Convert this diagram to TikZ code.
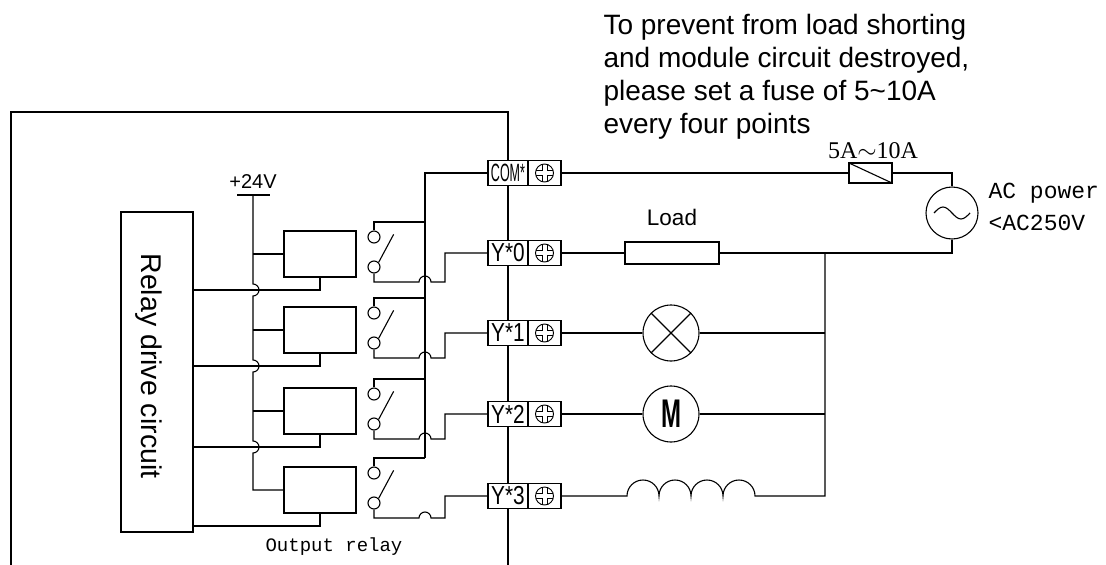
\documentclass[tikz,border=0pt]{standalone}
\usepackage{fontspec}
\usepackage{graphicx}
\setmainfont{Liberation Sans}
\newfontfamily\monofont{Liberation Mono}
\newfontfamily\seriffont{Liberation Serif}
\usetikzlibrary{positioning}

\begin{document}
\begin{tikzpicture}[x=1pt, y=-1pt, line width=1.1pt,
    coil/.style={draw, minimum width=72pt, minimum height=46pt, inner sep=0},
    contact/.style={draw, circle, minimum size=12pt, inner sep=0},
    term/.style={draw, fill=white, minimum width=40pt, minimum height=25pt,
                 inner sep=0, outer sep=0},
    screw/.style={draw, fill=white, minimum width=33pt, minimum height=25pt,
                  inner sep=0, outer sep=0,
      path picture={
        \draw[line width=0.9pt] (path picture bounding box.center) circle[radius=9];
        \clip (path picture bounding box.center) circle[radius=9];
        \draw[line width=0.9pt] (path picture bounding box.center)
          +(2.5,-10) -- +(2.5,-2.5) -- +(10,-2.5) -- +(10,2.5) -- +(2.5,2.5)
          -- +(2.5,10) -- +(-2.5,10) -- +(-2.5,2.5) -- +(-10,2.5) -- +(-10,-2.5)
          -- +(-2.5,-2.5) -- +(-2.5,-10) -- cycle;}},
    lamp/.style={draw, circle, minimum size=56pt, inner sep=0,
      path picture={
        \draw (path picture bounding box.north west) -- (path picture bounding box.south east)
              (path picture bounding box.north east) -- (path picture bounding box.south west);}},
    motor/.style={draw, circle, minimum size=56pt, inner sep=0},
    fuse/.style={draw, minimum width=43pt, minimum height=20pt, inner sep=0,
      path picture={
        \draw (path picture bounding box.north west) -- (path picture bounding box.south east);}},
    acsource/.style={draw, circle, minimum size=52pt, inner sep=0,
      path picture={
        \draw (path picture bounding box.center) ++(-18,0) sin ++(9,-6) cos ++(9,6)
              sin ++(9,6) cos ++(9,-6);}}]
    \useasboundingbox (0,0) rectangle (1106,565);

   % module outline
   \draw (11,565) -- (11,112) -- (508,112) -- (508,565);

   \node[draw, minimum width=72pt, minimum height=320pt, inner sep=0] (relay_drive) at (157,372) {};
   \node[rotate=-90, font=\fontsize{28.5}{28.5}\selectfont] (drive_text) at (149,366) {Relay drive circuit};

   % +24V supply
   \coordinate (v24) at (253,195);
   \draw (237,195) -- (270,195);
   \node[above=6pt of v24, inner sep=0, font=\fontsize{20}{20}\selectfont] (v24_label) {+24V};

   \node[coil] (coil_1) at (320,254) {};
   \node[coil] (coil_2) at (320,330) {};
   \node[coil] (coil_3) at (320,411) {};
   \node[coil] (coil_4) at (320,490) {};

   \draw (v24) -- (253,284) arc[start angle=-90, end angle=90, radius=6]
               -- (253,360) arc[start angle=-90, end angle=90, radius=6]
               -- (253,441) arc[start angle=-90, end angle=90, radius=6]
               -- (253,490) -- (coil_4.west);
   \draw (v24 |- coil_1.west) -- (coil_1.west);
   \draw (v24 |- coil_2.west) -- (coil_2.west);
   \draw (v24 |- coil_3.west) -- (coil_3.west);

   \draw (coil_1.south) |- (relay_drive.east |- 0,290);
   \draw (coil_2.south) |- (relay_drive.east |- 0,366);
   \draw (coil_3.south) |- (relay_drive.east |- 0,447);
   \draw (coil_4.south) |- (relay_drive.east |- 0,526);

   % output terminals
   \node[term] (term_com) at (508,173) {\scalebox{0.5}[1]{\fontsize{25}{25}\selectfont COM*}};
   \node[term] (term_y0) at (508,253) {\scalebox{0.8}[1]{\fontsize{26}{26}\selectfont Y*0}};
   \node[term] (term_y1) at (508,333) {\scalebox{0.8}[1]{\fontsize{26}{26}\selectfont Y*1}};
   \node[term] (term_y2) at (508,414) {\scalebox{0.8}[1]{\fontsize{26}{26}\selectfont Y*2}};
   \node[term] (term_y3) at (508,496) {\scalebox{0.8}[1]{\fontsize{26}{26}\selectfont Y*3}};
   \node[screw, right=0pt of term_com] (screw_com) {};
   \node[screw, right=0pt of term_y0] (screw_y0) {};
   \node[screw, right=0pt of term_y1] (screw_y1) {};
   \node[screw, right=0pt of term_y2] (screw_y2) {};
   \node[screw, right=0pt of term_y3] (screw_y3) {};

   % relay contacts
   \node[contact] (contact_1a) at (374,237) {};
   \node[contact] (contact_1b) at (374,267) {};
   \node[contact] (contact_2a) at (374,313) {};
   \node[contact] (contact_2b) at (374,343) {};
   \node[contact] (contact_3a) at (374,394) {};
   \node[contact] (contact_3b) at (374,424) {};
   \node[contact] (contact_4a) at (374,473) {};
   \node[contact] (contact_4b) at (374,503) {};
   \draw (contact_1b.45) -- ++(15,-28);
   \draw (contact_2b.45) -- ++(15,-28);
   \draw (contact_3b.45) -- ++(15,-28);
   \draw (contact_4b.45) -- ++(15,-28);

   \draw (term_com.west) -| (425,458);
   \draw (contact_1a.north) |- (425,222);
   \draw (contact_2a.north) |- (425,298);
   \draw (contact_3a.north) |- (425,379);
   \draw (contact_4a.north) |- (425,458);

   \draw (contact_1b.south) |- (419,282) arc[start angle=180, end angle=360, radius=6]
         -- (445,282) |- (term_y0.west);
   \draw (contact_2b.south) |- (419,358) arc[start angle=180, end angle=360, radius=6]
         -- (445,358) |- (term_y1.west);
   \draw (contact_3b.south) |- (419,439) arc[start angle=180, end angle=360, radius=6]
         -- (445,439) |- (term_y2.west);
   \draw (contact_4b.south) |- (419,518) arc[start angle=180, end angle=360, radius=6]
         -- (445,518) |- (term_y3.west);

   \node[inner sep=0, anchor=base west, font=\monofont\fontsize{19}{19}\selectfont] (relay_label) at (265,551) {Output relay};

   % loads and power
   \node[fuse] (fuse) at (870.5,173) {};
   \node[anchor=base, inner sep=0, font=\seriffont\fontsize{24}{24}\selectfont] (fuse_label) at (873,158) {5A$\sim$10A};
   \node[acsource] (ac) at (952,213) {};
   \node[anchor=north west, align=left, inner sep=0, font=\monofont\fontsize{23}{32}\selectfont] (ac_label) at (988,183) {AC power\\<AC250V};
   \node[draw, minimum width=94pt, minimum height=22pt, inner sep=0] (load) at (672,253) {};
   \node[above=15pt of load, inner sep=0, font=\fontsize{22.5}{22.5}\selectfont] (load_label) {Load};
   \node[lamp] (lamp) at (671,333) {};
   \node[motor] (motor) at (671,414) {\scalebox{0.6}[1]{\fontsize{40}{40}\selectfont\bfseries M}};
   \coordinate (rbus) at (825,253);

   \draw (screw_com.east) -- (fuse.west);
   \draw (fuse.east) -| (ac.north);
   \draw (ac.south) |- (load.east);
   \draw (screw_y0.east) -- (load.west);
   \draw (screw_y1.east) -- (lamp.west);
   \draw (lamp.east) -- (rbus |- lamp.east);
   \draw (screw_y2.east) -- (motor.west);
   \draw (motor.east) -- (rbus |- motor.east);
   \draw (screw_y3.east) -- (627,496)
         arc[start angle=180, end angle=360, radius=16]
         arc[start angle=180, end angle=360, radius=16]
         arc[start angle=180, end angle=360, radius=16]
         arc[start angle=180, end angle=360, radius=16]
         -- (rbus |- screw_y3.east) -- (rbus);

   \node[anchor=north west, align=left, inner sep=0, font=\fontsize{28}{33}\selectfont] (fuse_note) at (603,14)
        {To prevent from load shorting\\and module circuit destroyed,\\please set a fuse of 5\textasciitilde10A\\every four points};
\end{tikzpicture}
\end{document}
